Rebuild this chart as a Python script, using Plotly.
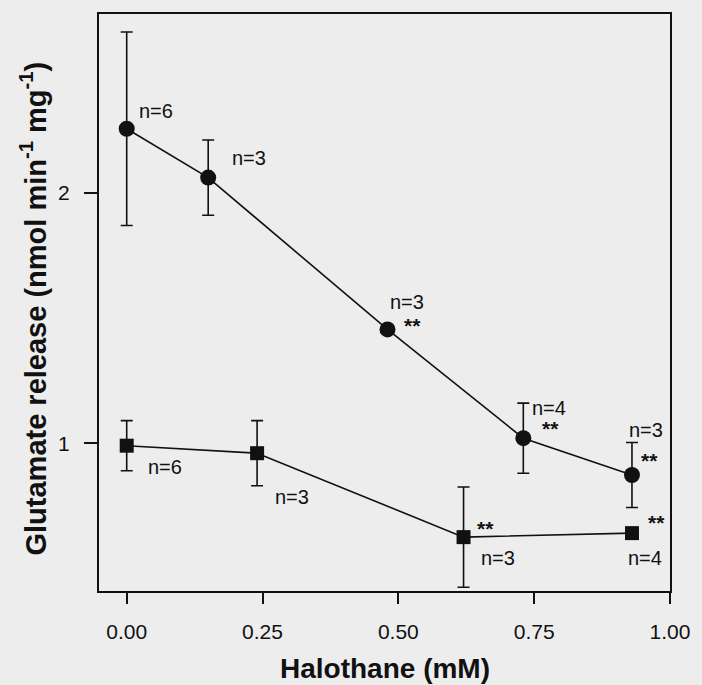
import plotly.graph_objects as go

# Halothane concentration (mM) and glutamate release (nmol min-1 mg-1)
circle_x = [0.0, 0.15, 0.48, 0.73, 0.93]
circle_y = [2.255, 2.06, 1.454, 1.02, 0.873]
circle_err = [0.386, 0.15, 0.0, 0.14, 0.13]
circle_n = ["n=6", "n=3", "n=3", "n=4", "n=3"]
circle_sig = ["", "", "**", "**", "**"]

square_x = [0.0, 0.24, 0.62, 0.93]
square_y = [0.99, 0.96, 0.625, 0.641]
square_err = [0.10, 0.13, 0.20, 0.0]
square_n = ["n=6", "n=3", "n=3", "n=4"]
square_sig = ["", "", "**", "**"]

x_ticks = [0.0, 0.25, 0.50, 0.75, 1.00]
x_ticklabels = ["0.00", "0.25", "0.50", "0.75", "1.00"]
y_ticks = [1, 2]
y_ticklabels = ["1", "2"]

INK = "#111111"
BG = "#ededed"
FONT = "Liberation Sans, Arial, Helvetica, sans-serif"

fig = go.Figure()
fig.add_trace(go.Scatter(
    x=circle_x, y=circle_y, mode="lines+markers",
    line=dict(color=INK, width=1.6),
    marker=dict(symbol="circle", size=16, color=INK),
    error_y=dict(type="data", array=circle_err, visible=True,
                 color=INK, thickness=1.6, width=6),
    showlegend=False, hoverinfo="skip"))
fig.add_trace(go.Scatter(
    x=square_x, y=square_y, mode="lines+markers",
    line=dict(color=INK, width=1.6),
    marker=dict(symbol="square", size=14, color=INK),
    error_y=dict(type="data", array=square_err, visible=True,
                 color=INK, thickness=1.6, width=6),
    showlegend=False, hoverinfo="skip"))

# label offsets (pixels) relative to each point: (dx, dy up)
circle_n_off = [(29, 18), (41, 20), (20, 27), (26, 30), (14, 45)]
circle_s_off = [None, None, (25, 4), (27, 10), (18, 15)]
square_n_off = [(38, -21), (35, -44), (34, -21), (13, -25)]
square_s_off = [None, None, (22, 9), (25, 11)]

ann = []
def lab(x, y, text, off, size=20):
    ann.append(dict(x=x, y=y, xref="x", yref="y", text=text, showarrow=False,
                    xshift=off[0], yshift=off[1], xanchor="center", yanchor="middle",
                    font=dict(family=FONT, size=size, color=INK)))

for i in range(len(circle_x)):
    lab(circle_x[i], circle_y[i], circle_n[i], circle_n_off[i])
    if circle_sig[i]:
        lab(circle_x[i], circle_y[i], "<b>" + circle_sig[i] + "</b>", circle_s_off[i], 21)
for i in range(len(square_x)):
    lab(square_x[i], square_y[i], square_n[i], square_n_off[i])
    if square_sig[i]:
        lab(square_x[i], square_y[i], "<b>" + square_sig[i] + "</b>", square_s_off[i], 21)

# axis titles
ann.append(dict(x=0, y=0.5, xref="paper", yref="paper", xshift=-66, yshift=-6,
                text="<b>Glutamate release (nmol min<sup>-1</sup> mg<sup>-1</sup>)</b>",
                textangle=-90, showarrow=False, xanchor="center", yanchor="middle",
                font=dict(family=FONT, size=29, color=INK)))
ann.append(dict(x=0.5, y=0, xref="paper", yref="paper", yshift=-77,
                text="<b>Halothane (mM)</b>", showarrow=False,
                xanchor="center", yanchor="middle",
                font=dict(family=FONT, size=28, color=INK)))

fig.update_layout(
    width=702, height=685,
    margin=dict(l=99, r=25, t=13, b=94),
    paper_bgcolor=BG, plot_bgcolor=BG,
    font=dict(family=FONT, size=20, color=INK),
    annotations=ann,
)
fig.update_xaxes(range=[-0.051, 1.0], tickvals=x_ticks, ticktext=x_ticklabels,
                 showgrid=False, zeroline=False, showline=True, linecolor=INK,
                 linewidth=2, mirror=True, ticks="outside", ticklen=11,
                 tickwidth=1.6, tickcolor=INK, ticklabelstandoff=10,
                 tickfont=dict(family=FONT, size=21, color=INK))
fig.update_yaxes(range=[0.41, 2.713], tickvals=y_ticks, ticktext=y_ticklabels,
                 showgrid=False, zeroline=False, showline=True, linecolor=INK,
                 linewidth=2, mirror=True, ticks="outside", ticklen=13,
                 tickwidth=1.6, tickcolor=INK, ticklabelstandoff=10,
                 tickfont=dict(family=FONT, size=21, color=INK))

fig.write_html(
    "out.html",
    config={"displayModeBar": False},
    post_script="document.body.style.margin='0';document.body.style.overflow='hidden';"
                "document.body.style.background='" + BG + "';",
)
